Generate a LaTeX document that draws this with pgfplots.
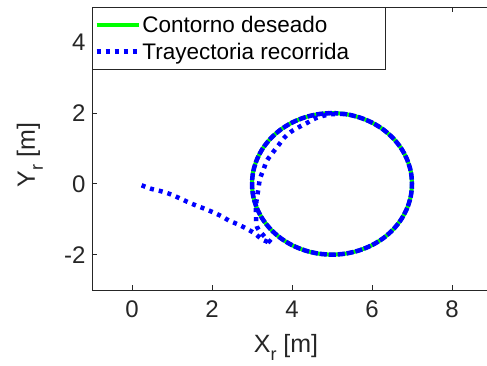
\documentclass[border=0pt]{standalone}
\usepackage{pgfplots}
\pgfplotsset{compat=1.18}
\usepackage{fontspec}
\setmainfont{Liberation Sans}
\definecolor{axgray}{rgb}{0.15,0.15,0.15}
\newcommand{\sub}[1]{\raisebox{-0.32em}{\fontsize{18bp}{18bp}\selectfont #1}}
\begin{document}
\begin{tikzpicture}
\begin{axis}[
  name=ax,
  scale only axis,
  width=400bp, height=283bp,
  xmin=-1, xmax=9, ymin=-3, ymax=5,
  xtick={0,2,4,6,8}, ytick={-2,0,2,4},
  tick align=inside,
  major tick length=5bp,
  axis line style={axgray, line width=0.8bp},
  every tick/.style={axgray, line width=0.8bp},
  /pgf/number format/assume math mode=true,
  ticklabel style={font=\fontsize{24bp}{28bp}\selectfont, text=axgray},
  xticklabel style={yshift=-7bp},
  yticklabel style={xshift=-3bp},
  xlabel={X\sub{r} [m]},
  ylabel={Y\sub{r} [m]},
  label style={font=\fontsize{25bp}{30bp}\selectfont, text=axgray},
  xlabel style={at={(axis description cs:0.485,-0.2226)}, anchor=base},
  ylabel style={at={(axis description cs:-0.1425,0.477)}, anchor=base},
  legend style={at={(axis description cs:0,1)}, anchor=north west,
    draw=axgray, line width=0.8bp, fill=white,
    font=\fontsize{22.5bp}{27bp}\selectfont,
    inner xsep=2bp, inner ysep=7bp, row sep=6bp,
    nodes={inner sep=1.5bp}},
  legend cell align=left,
  legend image code/.code={\draw[#1] (0bp,0bp) -- (42bp,0bp);},
]
\addplot[color={rgb,1:red,0;green,1;blue,0}, line width=4bp, smooth] coordinates {
(7.000,0.000) (6.970,0.347) (6.879,0.684) (6.732,1.000) (6.532,1.286) (6.286,1.532)
(6.000,1.732) (5.684,1.879) (5.347,1.970) (5.000,2.000) (4.653,1.970) (4.316,1.879)
(4.000,1.732) (3.714,1.532) (3.468,1.286) (3.268,1.000) (3.121,0.684) (3.030,0.347)
(3.000,0.000) (3.030,-0.347) (3.121,-0.684) (3.268,-1.000) (3.468,-1.286) (3.714,-1.532)
(4.000,-1.732) (4.316,-1.879) (4.653,-1.970) (5.000,-2.000) (5.347,-1.970) (5.684,-1.879)
(6.000,-1.732) (6.286,-1.532) (6.532,-1.286) (6.732,-1.000) (6.879,-0.684) (6.970,-0.347)
(7.000,0.000)
};
\addlegendentry{Contorno deseado}
\addplot[color={rgb,1:red,0;green,0;blue,1}, line width=4.5bp, dash pattern=on 4bp off 5bp, smooth] coordinates {
(0.24,-0.04) (0.48,-0.14) (0.70,-0.20) (0.93,-0.28) (1.16,-0.39) (1.37,-0.50)
(1.60,-0.61) (1.81,-0.70) (2.02,-0.80) (2.23,-0.91) (2.43,-1.04) (2.66,-1.15)
(2.87,-1.27) (3.08,-1.41) (3.24,-1.56) (3.49,-1.68) (3.33,-1.51) (3.13,-1.23)
(3.10,-0.94) (3.10,-0.60) (3.13,-0.35) (3.16,-0.14) (3.20,0.15) (3.28,0.38)
(3.37,0.65) (3.51,0.87) (3.66,1.09) (3.81,1.31) (3.97,1.47) (4.18,1.61)
(4.37,1.72) (4.58,1.85) (4.80,1.93) (5.00,1.97) (5.347,1.970) (5.684,1.879)
(6.000,1.732) (6.286,1.532) (6.532,1.286) (6.732,1.000) (6.879,0.684) (6.970,0.347)
(7.000,0.000) (6.970,-0.347) (6.879,-0.684) (6.732,-1.000) (6.532,-1.286) (6.286,-1.532)
(6.000,-1.732) (5.684,-1.879) (5.347,-1.970) (5.000,-2.000) (4.653,-1.970) (4.316,-1.879)
(4.000,-1.732) (3.714,-1.532) (3.468,-1.286) (3.268,-1.000) (3.121,-0.684) (3.030,-0.347)
(3.000,0.000) (3.030,0.347) (3.121,0.684) (3.268,1.000) (3.468,1.286) (3.714,1.532)
(4.000,1.732) (4.316,1.879) (4.653,1.970) (5.000,2.000) (5.347,1.970) (5.684,1.879)
(6.000,1.732) (6.286,1.532) (6.532,1.286) (6.732,1.000) (6.879,0.684) (6.970,0.347)
(7.000,0.000) (6.970,-0.347) (6.879,-0.684) (6.732,-1.000) (6.532,-1.286) (6.286,-1.532)
(6.000,-1.732) (5.684,-1.879) (5.347,-1.970) (5.000,-2.000) (4.653,-1.970) (4.316,-1.879)
(4.000,-1.732) (3.714,-1.532) (3.468,-1.286) (3.268,-1.000) (3.121,-0.684) (3.030,-0.347)
(3.000,0.000) (3.030,0.347) (3.121,0.684) (3.268,1.000) (3.468,1.286) (3.714,1.532)
(4.000,1.732) (4.316,1.879) (4.653,1.970) (5.000,2.000)
};
\addlegendentry{\makebox[239bp][l]{Trayectoria recorrida}}
\end{axis}
\pgfresetboundingbox
\path ([xshift=-92bp,yshift=-76bp]ax.south west) rectangle ([xshift=-5bp,yshift=7bp]ax.north east);
\end{tikzpicture}
\end{document}
